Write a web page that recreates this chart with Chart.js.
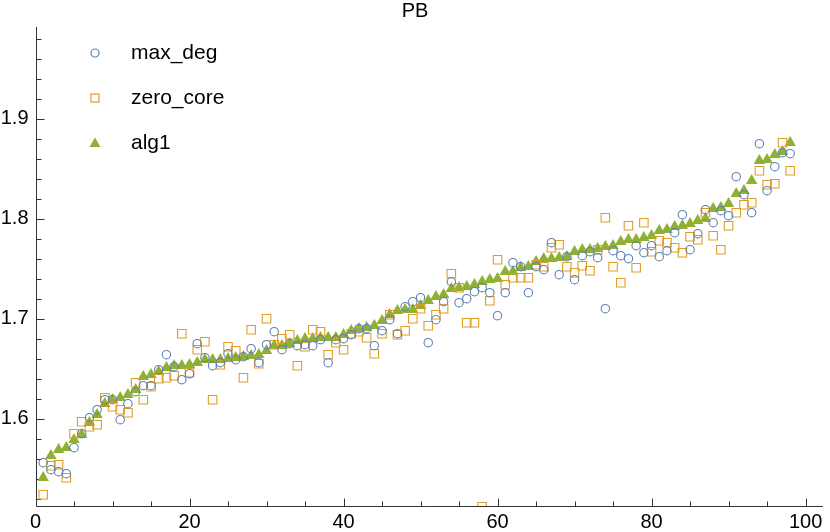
<!DOCTYPE html>
<html>
<head>
<meta charset="utf-8">
<script src="https://cdn.jsdelivr.net/npm/chart.js@4.4.0/dist/chart.umd.min.js"></script>
<style>
  body { margin: 0; background: #fff; }
  canvas { display: block; }
</style>
</head>
<body>
<canvas id="myChart" width="830" height="532"></canvas>
<script>
'use strict';
let titleText = 'PB';
let seriesNames = ['max_deg', 'zero_core', 'alg1'];
let xTicks = [0, 20, 40, 60, 80, 100];
let yTicks = [1.6, 1.7, 1.8, 1.9];

let maxDeg = [1.556, 1.549, 1.547, 1.545, 1.571, 1.585, 1.601, 1.609, 1.619, 1.619,
  1.599, 1.615, 1.627, 1.633, 1.633, 1.649, 1.664, 1.652, 1.639, 1.645,
  1.675, 1.661, 1.653, 1.656, 1.665, 1.659, 1.662, 1.670, 1.656, 1.674,
  1.687, 1.669, 1.675, 1.673, 1.674, 1.673, 1.679, 1.656, 1.679, 1.680,
  1.684, 1.690, 1.690, 1.673, 1.688, 1.699, 1.685, 1.712, 1.717, 1.721,
  1.676, 1.699, 1.717, 1.737, 1.716, 1.720, 1.727, 1.731, 1.726, 1.703,
  1.726, 1.756, 1.752, 1.726, 1.752, 1.749, 1.776, 1.744, 1.762, 1.739,
  1.763, 1.767, 1.761, 1.710, 1.768, 1.763, 1.760, 1.773, 1.766, 1.773,
  1.762, 1.768, 1.786, 1.804, 1.769, 1.785, 1.809, 1.796, 1.808, 1.803,
  1.842, 1.824, 1.806, 1.875, 1.828, 1.852, 1.866, 1.865];

let zeroCore = [1.524, 1.553, 1.554, 1.541, 1.585, 1.597, 1.592, 1.594, 1.621, 1.612,
  1.609, 1.606, 1.636, 1.619, 1.632, 1.640, 1.641, 1.643, 1.685, 1.646,
  1.669, 1.677, 1.619, 1.654, 1.672, 1.668, 1.641, 1.689, 1.655, 1.700,
  1.674, 1.680, 1.684, 1.653, 1.672, 1.689, 1.687, 1.664, 1.676, 1.669,
  1.685, 1.687, 1.681, 1.665, 1.685, 1.704, 1.684, 1.688, 1.700, 1.710,
  1.693, 1.704, 1.710, 1.745, 1.731, 1.696, 1.696, 1.512, 1.718, 1.759,
  1.734, 1.741, 1.741, 1.741, 1.754, 1.752, 1.771, 1.774, 1.752, 1.746,
  1.753, 1.748, 1.769, 1.801, 1.752, 1.736, 1.793, 1.751, 1.796, 1.767,
  1.778, 1.776, 1.771, 1.766, 1.782, 1.779, 1.806, 1.783, 1.769, 1.793,
  1.806, 1.814, 1.816, 1.848, 1.834, 1.835, 1.876, 1.848];

let alg1 = [1.541, 1.563, 1.569, 1.571, 1.579, 1.584, 1.596, 1.604, 1.615, 1.619,
  1.621, 1.624, 1.629, 1.642, 1.644, 1.647, 1.651, 1.653, 1.653, 1.654,
  1.656, 1.659, 1.659, 1.659, 1.660, 1.661, 1.662, 1.663, 1.664, 1.668,
  1.673, 1.673, 1.675, 1.678, 1.680, 1.680, 1.681, 1.681, 1.681, 1.684,
  1.688, 1.690, 1.691, 1.693, 1.698, 1.704, 1.708, 1.709, 1.709, 1.713,
  1.718, 1.722, 1.724, 1.730, 1.731, 1.732, 1.734, 1.737, 1.739, 1.740,
  1.747, 1.747, 1.751, 1.752, 1.757, 1.760, 1.760, 1.761, 1.762, 1.767,
  1.769, 1.769, 1.770, 1.772, 1.773, 1.777, 1.779, 1.779, 1.781, 1.783,
  1.788, 1.789, 1.792, 1.793, 1.795, 1.798, 1.800, 1.810, 1.811, 1.815,
  1.825, 1.828, 1.838, 1.858, 1.859, 1.864, 1.867, 1.876];

let blue = '#5e81b5';
let orange = '#e19c24';
let green = '#8fb032';
let axisColor = '#333333';
let fontFamily = "'Liberation Sans', Arial, sans-serif";

function toPoints(values) {
    return values.map(function (v, i) {
        return { x: i + 1, y: v };
    });
}

// axes with inward ticks, like the original
let axesPlugin = {
    id: 'axesPlugin',
    beforeDatasetsDraw(chart) {
        let ctx = chart.ctx;
        let xs = chart.scales.x;
        let ys = chart.scales.y;
        let area = chart.chartArea;
        let x0 = Math.round(area.left) + 0.5;
        let y0 = Math.round(area.bottom) + 0.5;
        ctx.save();
        ctx.strokeStyle = axisColor;
        ctx.lineWidth = 1;
        ctx.beginPath();
        ctx.moveTo(x0, area.top);
        ctx.lineTo(x0, y0);
        ctx.lineTo(area.right, y0);
        // y ticks every 0.02, longer at the labelled ones
        for (let k = 76; k * 0.02 <= ys.max; k++) {
            let v = k * 0.02;
            if (v < ys.min) continue;
            let py = Math.round(ys.getPixelForValue(v)) + 0.5;
            let len = (k % 5 === 0) ? 8 : 5;
            ctx.moveTo(x0, py);
            ctx.lineTo(x0 + len, py);
        }
        // x ticks every 5
        for (let k = 1; k * 5 <= xs.max; k++) {
            let px = Math.round(xs.getPixelForValue(k * 5)) + 0.5;
            let len = (k % 4 === 0) ? 8 : 5;
            ctx.moveTo(px, y0);
            ctx.lineTo(px, y0 - len);
        }
        ctx.stroke();
        ctx.restore();
    },
    afterDraw(chart) {
        let ctx = chart.ctx;
        ctx.save();
        ctx.fillStyle = '#000';
        ctx.font = '20px ' + fontFamily;
        ctx.textAlign = 'center';
        ctx.textBaseline = 'middle';
        ctx.fillText(titleText, 415, 11);

        // legend
        let rowsY = [53, 98, 143];
        let mx = 95;
        ctx.lineWidth = 1.2;
        ctx.strokeStyle = blue;
        ctx.beginPath();
        ctx.arc(mx, rowsY[0], 4, 0, Math.PI * 2);
        ctx.stroke();
        ctx.strokeStyle = orange;
        ctx.strokeRect(mx - 4, rowsY[1] - 4, 8, 8);
        ctx.fillStyle = green;
        ctx.beginPath();
        ctx.moveTo(mx, rowsY[2] - 5.5);
        ctx.lineTo(mx + 5.5, rowsY[2] + 4);
        ctx.lineTo(mx - 5.5, rowsY[2] + 4);
        ctx.closePath();
        ctx.fill();

        ctx.fillStyle = '#000';
        ctx.font = '21px ' + fontFamily;
        ctx.textAlign = 'left';
        for (let i = 0; i < seriesNames.length; i++) {
            ctx.fillText(seriesNames[i], 131, rowsY[i]);
        }
        ctx.restore();
    }
};

let ctx = document.getElementById('myChart').getContext('2d');
let myChart = new Chart(ctx, {
    type: 'scatter',
    data: {
        datasets: [{
            label: seriesNames[0],
            data: toPoints(maxDeg),
            pointStyle: 'circle',
            pointRadius: 4.2,
            borderColor: blue,
            backgroundColor: 'rgba(0,0,0,0)',
            borderWidth: 1.1
        }, {
            label: seriesNames[1],
            data: toPoints(zeroCore),
            pointStyle: 'rect',
            pointRadius: 6,
            borderColor: orange,
            backgroundColor: 'rgba(0,0,0,0)',
            borderWidth: 1.1
        }, {
            label: seriesNames[2],
            data: toPoints(alg1),
            pointStyle: 'triangle',
            pointRadius: 6.6,
            borderColor: green,
            backgroundColor: green,
            borderWidth: 0
        }]
    },
    options: {
        responsive: false,
        animation: false,
        devicePixelRatio: 1,
        layout: { padding: { top: 27, right: 0, left: 0, bottom: 0 } },
        plugins: {
            legend: { display: false },
            tooltip: { enabled: false },
            title: { display: false }
        },
        scales: {
            x: {
                type: 'linear',
                min: 0,
                max: 102.25,
                afterBuildTicks: function (scale) {
                    scale.ticks = xTicks.map(function (v) { return { value: v }; });
                },
                afterFit: function (scale) { scale.height = 26; },
                grid: { display: false, drawTicks: false },
                border: { display: false },
                ticks: {
                    color: '#000',
                    padding: 4,
                    maxRotation: 0,
                    font: { family: fontFamily, size: 20 }
                }
            },
            y: {
                type: 'linear',
                min: 1.5127,
                max: 1.9917,
                afterBuildTicks: function (scale) {
                    scale.ticks = yTicks.map(function (v) { return { value: v }; });
                },
                afterFit: function (scale) { scale.width = 35.5; },
                grid: { display: false, drawTicks: false },
                border: { display: false },
                ticks: {
                    color: '#000',
                    padding: 7,
                    font: { family: fontFamily, size: 20 },
                    callback: function (v) { return v.toFixed(1); }
                }
            }
        }
    },
    plugins: [axesPlugin]
});
</script>
</body>
</html>
